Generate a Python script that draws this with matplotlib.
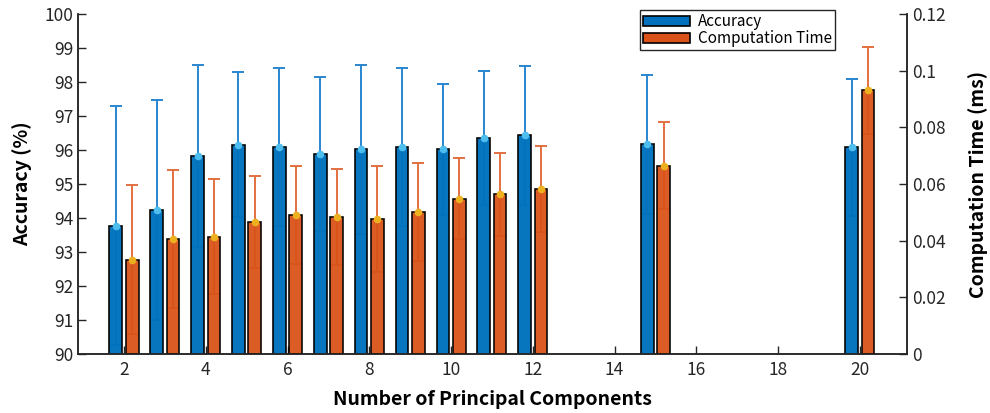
import numpy as np
import matplotlib.pyplot as plt
from matplotlib.patches import Patch
from matplotlib.ticker import FuncFormatter

plt.rcParams['font.family'] = ['Noto Sans CJK KR', 'DejaVu Sans']

# number of principal components kept
n_pc = [2, 3, 4, 5, 6, 7, 8, 9, 10, 11, 12, 15, 20]
# accuracy (%) and its spread
acc = [93.77, 94.24, 95.82, 96.16, 96.09, 95.88, 96.02, 96.09, 96.02, 96.36, 96.43, 96.17, 96.08]
acc_err = [3.51, 3.23, 2.68, 2.12, 2.32, 2.26, 2.48, 2.32, 1.92, 1.97, 2.04, 2.04, 2.01]
# computation time (ms) and its spread
ctime = [0.0333, 0.0407, 0.0414, 0.0466, 0.0490, 0.0484, 0.0477, 0.0501, 0.0548, 0.0564, 0.0582, 0.0665, 0.0930]
ctime_err = [0.0263, 0.0243, 0.0202, 0.0161, 0.0172, 0.0169, 0.0186, 0.0174, 0.0142, 0.0147, 0.0152, 0.0155, 0.0153]

x = np.array(n_pc, dtype=float)
off = 0.2
w = 0.31

blue = '#0072BD'
orange = '#D95319'

fig = plt.figure(figsize=(9.9, 4.13), dpi=100)
ax = fig.add_axes([0.0788, 0.1429, 0.8372, 0.8232])
ax2 = ax.twinx()

ax.errorbar(x - off, acc, yerr=acc_err, fmt='none', ecolor='#2A86CF', elinewidth=1.4,
            capsize=4, capthick=1.4, zorder=1)
ax.bar(x - off, acc, width=w, color=blue, edgecolor='black', linewidth=1.2, alpha=0.97, zorder=2)
ax.plot(x - off, acc, 'o', color='#4DBEEE', ms=4.5, zorder=3)

ax2.errorbar(x + off, ctime, yerr=ctime_err, fmt='none', ecolor='#E2703F', elinewidth=1.4,
             capsize=4, capthick=1.4, zorder=1)
ax2.bar(x + off, ctime, width=w, color=orange, edgecolor='black', linewidth=1.2, alpha=0.95, zorder=2)
ax2.plot(x + off, ctime, 'o', color='#EDB120', ms=4.5, zorder=3)

ax.set_xlim(0.875, 21.15)
ax.set_ylim(90, 100)
ax2.set_ylim(0, 0.12)

ax.set_xticks(np.arange(2, 21, 2))
ax.set_yticks(np.arange(90, 101, 1))
ax2.set_yticks(np.arange(0, 0.121, 0.02))
ax2.yaxis.set_major_formatter(FuncFormatter(lambda v, p: '%g' % round(v, 3)))

for a in (ax, ax2):
    a.spines['top'].set_visible(False)
    a.tick_params(direction='in', length=6, width=1, labelsize=12.5, colors='#262626')
    for s in a.spines.values():
        s.set_linewidth(1.1)
        s.set_color('#262626')
ax.tick_params(axis='x', pad=5)
ax2.tick_params(axis='y', pad=4)

ax.set_xlabel('Number of Principal Components', fontsize=14, fontweight='bold', labelpad=8)
ax.set_ylabel('Accuracy (%)', fontsize=14, fontweight='bold', labelpad=9)
ax2.set_ylabel('Computation Time (ms)', fontsize=14, fontweight='bold', labelpad=16)

handles = [Patch(facecolor=blue, edgecolor='black', linewidth=1.2, label='Accuracy'),
           Patch(facecolor=orange, edgecolor='black', linewidth=1.2, label='Computation Time')]
ax2.legend(handles=handles, loc='upper left', bbox_to_anchor=(640 / 990, 1 - 10 / 413),
           bbox_transform=fig.transFigure, fontsize=11, frameon=True, fancybox=False,
           edgecolor='#262626', framealpha=1, borderpad=0.2, labelspacing=0.0,
           handlelength=3.1, handleheight=0.6, handletextpad=0.5, borderaxespad=0)

fig.savefig('out.png', dpi=100)
